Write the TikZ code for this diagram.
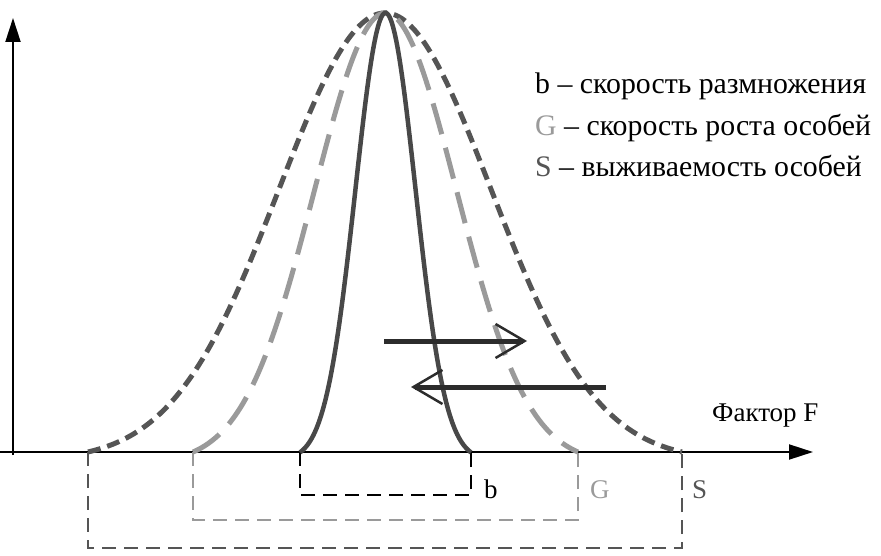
\documentclass[tikz,border=0pt]{standalone}
\usepackage{fontspec}
\setmainfont{Liberation Serif}
\usetikzlibrary{arrows.meta}
\definecolor{sgray}{HTML}{555555}
\definecolor{ggray}{HTML}{9A9A9A}
\definecolor{bgray}{HTML}{484848}
\definecolor{agray}{HTML}{2C2C2C}
\begin{document}
\begin{tikzpicture}[x=1pt,y=-1pt,
  axisline/.style={line width=2pt, -{Triangle[length=24pt,width=15pt]}},
  scurve/.style={draw=sgray, line width=5pt, dash pattern=on 13pt off 7pt},
  gcurve/.style={draw=ggray, line width=5pt, dash pattern=on 32pt off 14pt},
  bcurve/.style={draw=bgray, line width=4.5pt},
  bracket/.style={line width=1.3pt, dash pattern=on 14pt off 8pt},
  harrow/.style={draw=agray, line width=5pt, -{Straight Barb[length=29pt,width=34pt,line width=2.5pt]}},
  lbl/.style={font=\fontsize{27}{30}\selectfont, inner sep=0pt},
  leg/.style={font=\fontsize{29.8}{32}\selectfont, inner sep=0pt, anchor=base west}
]
\useasboundingbox (0,0) rectangle (881,556);
% axes
\coordinate (yb) at (13,455);
\coordinate (yt) at (13,18);
\coordinate (xl) at (0,452);
\coordinate (xr) at (813,452);
\draw[axisline] (yb) -- (yt);
\draw[axisline] (xl) -- (xr);
% brackets
\draw[bracket, draw=black] (300,452) -- (300,495) -- (471,495) -- (471,452);
\draw[bracket, draw=ggray] (193,452) -- (193,520) -- (578,520) -- (578,452);
\draw[bracket, draw=sgray] (88,452) -- (88,548) -- (682,548) -- (682,452);
% curves
\draw[scurve] plot[domain=88:682,samples=200,smooth] (\x,{452-439*(exp(-0.5*((\x-385)/106)^2)-0.0196)/0.9804});
\draw[gcurve] plot[domain=193:578,samples=200,smooth] (\x,{452-439*(exp(-0.5*((\x-385.5)/71)^2)-0.0253)/0.9747});
\draw[bcurve] plot[domain=300:471,samples=200,smooth] (\x,{452-439*(exp(-0.5*((\x-385.5)/30)^2)-0.018)/0.982});
% arrows
\coordinate (a1s) at (384,341);
\coordinate (a1e) at (527,341);
\coordinate (a2s) at (606,387);
\coordinate (a2e) at (411,387);
\draw[harrow] (a1s) -- (a1e);
\draw[harrow] (a2s) -- (a2e);
% legend
\node[leg] (l1) at (535,94) {b – скорость размножения};
\node[leg] (l2) at (535,136) {\textcolor{ggray}{G} – скорость роста особей};
\node[leg] (l3) at (535,177) {\textcolor{sgray}{S} – выживаемость особей};
\node[lbl, anchor=base west] (fx) at (712,421) {Фактор F};
% bracket labels
\node[lbl, anchor=base west] (lb) at (484,498) {b};
\node[lbl, anchor=base west, text=ggray] (lg) at (590,498) {G};
\node[lbl, anchor=base west, text=sgray] (ls) at (692,498) {S};
\end{tikzpicture}
\end{document}
